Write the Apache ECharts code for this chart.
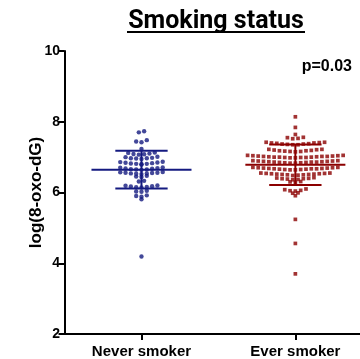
<!DOCTYPE html>
<html><head><meta charset="utf-8">
<script src="https://cdn.jsdelivr.net/npm/echarts@6/dist/echarts.min.js"></script>
<style>html,body{margin:0;padding:0;background:#fff}#c{width:360px;height:359px}</style>
</head><body><div id="c"></div>
<script>
// ---- data ----
const titleText = 'Smoking status';
const pText = 'p=0.03';
const yAxisName = 'log(8-oxo-dG)';
const categories = ['Never smoker', 'Ever smoker'];
const categoryPositions = [1, 3];
const yTicks = [2, 4, 6, 8, 10];

const neverValues = [
  7.73, 7.70,
  7.48, 7.44, 7.42,
  7.23,
  7.13, 7.12, 7.10, 7.09, 7.08, 7.07,
  7.01, 7.00, 6.98, 6.97, 6.97, 6.96, 6.95,
  6.87, 6.86, 6.85, 6.84, 6.83, 6.82, 6.81, 6.81, 6.80, 6.79,
  6.71, 6.70, 6.69, 6.68, 6.67, 6.66, 6.65, 6.65, 6.64,
  6.58, 6.57, 6.56, 6.56, 6.55, 6.54, 6.54, 6.53, 6.52,
  6.47, 6.45, 6.44,
  6.33, 6.31,
  6.20, 6.19, 6.18, 6.17, 6.16, 6.15, 6.14,
  6.05, 6.03, 6.02,
  5.92, 5.90, 5.88,
  5.81,
  4.19
];

const everValues = [
  8.14, 7.84, 7.64,
  7.56, 7.55, 7.53, 7.52,
  7.42, 7.42, 7.41, 7.40, 7.40, 7.39, 7.38, 7.37, 7.37, 7.36, 7.35, 7.35,
  7.22, 7.22, 7.21, 7.20, 7.19, 7.18, 7.18, 7.17, 7.16, 7.16, 7.15,
  7.05, 7.05, 7.04, 7.04, 7.03, 7.03, 7.02, 7.02, 7.02, 7.01, 7.01, 7.00, 7.00, 7.00, 6.99, 6.99, 6.99, 6.98, 6.98,
  6.90, 6.90, 6.89, 6.89, 6.88, 6.88, 6.87, 6.87, 6.86, 6.86, 6.86, 6.85, 6.85, 6.84, 6.84, 6.83, 6.83,
  6.71, 6.71, 6.70, 6.70, 6.69, 6.69, 6.68, 6.68, 6.67, 6.67, 6.67, 6.66, 6.66, 6.65, 6.65, 6.64, 6.64,
  6.55, 6.55, 6.54, 6.54, 6.53, 6.53, 6.52, 6.52, 6.51, 6.51, 6.50, 6.50, 6.49, 6.48,
  6.42, 6.41, 6.40, 6.39, 6.39, 6.38, 6.37, 6.36,
  6.31, 6.30, 6.29,
  6.10, 6.08, 6.06, 6.05, 6.04,
  5.99, 5.98,
  5.91,
  5.24, 4.56, 3.70
];

const groupMeans = [6.645, 6.785];
const groupSDs = [0.535, 0.575];

// ---- layout helpers (beeswarm rows) ----
function swarm(values, center, spacing, rowTol) {
  const sorted = values.slice().sort((a, b) => b - a);
  const rows = []; let cur = null;
  for (const v of sorted) {
    if (!cur || cur.start - v > rowTol) { cur = { start: v, vals: [] }; rows.push(cur); }
    cur.vals.push(v);
  }
  const pts = [];
  rows.forEach(r => {
    const n = r.vals.length;
    const offs = [];
    for (let i = 0; i < n; i++) offs.push((i - (n - 1) / 2) * spacing);
    offs.sort((a, b) => Math.abs(a) - Math.abs(b) || a - b);
    const asc = r.vals.slice().sort((a, b) => a - b);
    asc.forEach((v, i) => pts.push([center + offs[i], v]));
  });
  return pts;
}

const colors = ['#141a80', '#8b0000'];
const SPACING = 0.069;
const neverPts = swarm(neverValues, categoryPositions[0], SPACING, 0.075);
const everPts = swarm(everValues, categoryPositions[1], SPACING, 0.075);
const statData = categoryPositions.map((x, i) => [x, groupMeans[i], groupSDs[i], i]);

const FONT = '"Liberation Sans", Arial, sans-serif';

const chart = echarts.init(document.getElementById('c'), null, { renderer: 'canvas' });
chart.setOption({
  animation: false,
  backgroundColor: '#fff',
  title: [
    { text: pText, right: 3, top: 54,
      textStyle: { fontSize: 16, fontFamily: FONT, fontWeight: 'bold', color: '#000' } }
  ],
  graphic: [
    { type: 'text', x: 216, y: 34, z: 10,
      style: { text: titleText, textAlign: 'center', textVerticalAlign: 'bottom',
        font: 'bold 25px Roboto, sans-serif', fill: '#000' } },
    { type: 'line', shape: { x1: 127, y1: 32, x2: 305, y2: 32 }, style: { stroke: '#000', lineWidth: 2 } }
  ],
  grid: { left: 63, right: 0, top: 51, bottom: 25, containLabel: false },
  xAxis: {
    type: 'value', min: -0.02, max: 3.84,
    splitLine: { show: false },
    axisLine: { show: true, onZero: false, lineStyle: { color: '#000', width: 2 } },
    axisTick: { show: true, customValues: categoryPositions, length: 6, lineStyle: { color: '#000', width: 2 } },
    axisLabel: { show: true, customValues: categoryPositions, margin: 10,
      formatter: v => categories[categoryPositions.indexOf(Math.round(v))] || '',
      fontSize: 15, fontFamily: FONT, fontWeight: 'bold', color: '#000' }
  },
  yAxis: {
    type: 'value', min: yTicks[0], max: yTicks[yTicks.length - 1], interval: 2,
    name: yAxisName, nameLocation: 'middle', nameRotate: 90, nameGap: 18, nameMoveOverlap: false,
    nameTextStyle: { fontSize: 17, fontFamily: FONT, fontWeight: 'bold', color: '#000' },
    splitLine: { show: false },
    axisLine: { show: true, lineStyle: { color: '#000', width: 2 } },
    axisTick: { show: true, length: 6, lineStyle: { color: '#000', width: 2 } },
    axisLabel: { margin: 3, fontSize: 14, fontFamily: FONT, fontWeight: 'bold', color: '#000' }
  },
  series: [
    { type: 'scatter', data: neverPts, symbol: 'circle', symbolSize: 4.4,
      itemStyle: { color: colors[0] }, z: 3 },
    { type: 'scatter', data: everPts, symbol: 'rect', symbolSize: 3.7,
      itemStyle: { color: colors[1] }, z: 3 },
    { type: 'custom', data: statData, z: 4,
      renderItem: function (params, api) {
        const x = api.value(0), m = api.value(1), sd = api.value(2), g = api.value(3);
        const col = colors[g];
        const seg = (a, b) => ({ type: 'line', shape: { x1: a[0], y1: a[1], x2: b[0], y2: b[1] },
          style: { stroke: col, lineWidth: 2 } });
        return { type: 'group', children: [
          seg(api.coord([x - 0.65, m]), api.coord([x + 0.65, m])),
          seg(api.coord([x - 0.34, m + sd]), api.coord([x + 0.34, m + sd])),
          seg(api.coord([x - 0.34, m - sd]), api.coord([x + 0.34, m - sd])),
          seg(api.coord([x, m + sd]), api.coord([x, m - sd]))
        ] };
      }
    }
  ]
});
</script>
</body></html>
